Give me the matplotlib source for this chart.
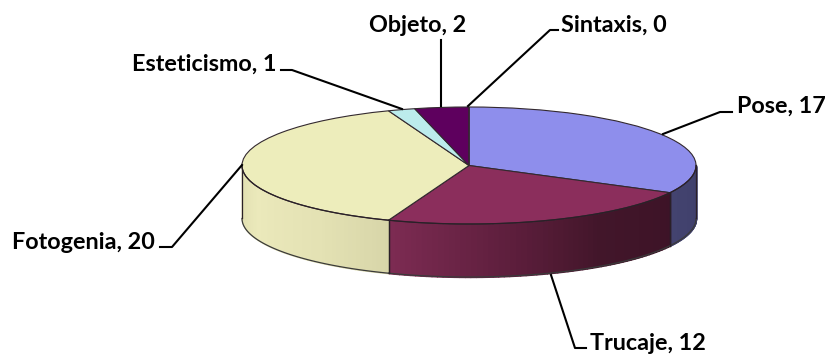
import numpy as np
import matplotlib
matplotlib.use("Agg")
import matplotlib.pyplot as plt
from matplotlib.colors import to_rgb

plt.rcParams['font.family'] = ['Lato', 'DejaVu Sans']

labels = ["Pose", "Trucaje", "Fotogenia", "Esteticismo", "Objeto", "Sintaxis"]
values = [17, 12, 20, 1, 2, 0]
colors = ["#8e8eec", "#8b2e5c", "#ededbb", "#bcecec", "#5e005e", "#5e005e"]
# side wall shading, from the right end of the visible part to the left end
side_stops = {
    "Pose": ([0, 1], ["#3f3f6b", "#43436f"]),
    "Trucaje": ([0, 0.33, 0.59, 1], ["#3d1327", "#42162a", "#5a1d3a", "#7c2b52"]),
    "Fotogenia": ([0, 0.3, 0.7, 1], ["#d8d6a9", "#e4e2b4", "#ebe9bb", "#e0dfb0"]),
}

W, H = 826, 355
cx, cy, rx, ry = 469, 165.5, 227, 58.5
depth = 53 / ry

def px(x, y):
    return (x - cx) / rx, (cy - y) / ry

fig = plt.figure(figsize=(W / 100, H / 100), dpi=100)
ax = fig.add_axes([0, 0, 1, 1])
ax.pie(values, startangle=90, counterclock=False, colors=colors,
       wedgeprops=dict(edgecolor="#33292f", linewidth=0.8, zorder=3))
ax.set_aspect("auto")
ax.set_xlim(px(0, 0)[0], px(W, 0)[0])
ax.set_ylim(px(0, H)[1], px(0, 0)[1])
ax.axis("off")

# side wall, only the lower half of the ellipse can be seen
edges = 90 - np.cumsum([0] + values) * 360 / sum(values)
for i, name in enumerate(labels):
    a0 = min(edges[i], 0)
    a1 = max(edges[i + 1], -180)
    if a0 <= a1:
        continue
    stops, cols = side_stops[name]
    rgb = np.array([to_rgb(c) for c in cols])
    steps = np.linspace(a0, a1, 60)
    for j in range(len(steps) - 1):
        t = j / (len(steps) - 2)
        c = [np.interp(t, stops, rgb[:, k]) for k in range(3)]
        th = np.radians(np.linspace(steps[j], steps[j + 1], 4))
        x = np.cos(th)
        y = np.sin(th)
        ax.fill_between(x, y, y - depth, color=c, linewidth=1.0, zorder=1)
    th = np.radians(np.linspace(a0, a1, 80))
    ax.plot(np.cos(th), np.sin(th) - depth, color="#3a3a3a", lw=0.9, zorder=2)
    ax.plot(np.cos(th), np.sin(th), color="#2a2028", lw=0.9, zorder=4)
    for a in (a0, a1):
        ax.plot([np.cos(np.radians(a))] * 2,
                [np.sin(np.radians(a)), np.sin(np.radians(a)) - depth],
                color="#2a2028", lw=0.9, zorder=2)

# leader lines and labels
leaders = {
    "Pose": [(663, 134), (720, 112), (732, 112)],
    "Trucaje": [(551, 275), (575, 348), (586, 348)],
    "Fotogenia": [(242, 165), (172, 247), (160, 247)],
    "Esteticismo": [(402, 109), (292, 70), (281, 70)],
    "Objeto": [(441, 106), (441, 40)],
    "Sintaxis": [(468, 106), (550, 30), (558, 30)],
}
text_pos = {
    "Pose": (737, 106),
    "Trucaje": (590, 343),
    "Fotogenia": (12, 243),
    "Esteticismo": (132, 64),
    "Objeto": (369, 26),
    "Sintaxis": (561, 25),
}
for name, val in zip(labels, values):
    pts = np.array([px(*p) for p in leaders[name]])
    ax.plot(pts[:, 0], pts[:, 1], color="black", lw=1.5, zorder=5)
    tx, ty = px(*text_pos[name])
    ax.text(tx, ty, f"{name}, {val}", fontsize=16.8, fontweight="bold",
            color="black", ha="left", va="center", zorder=6)

fig.savefig("out.png", dpi=100)
